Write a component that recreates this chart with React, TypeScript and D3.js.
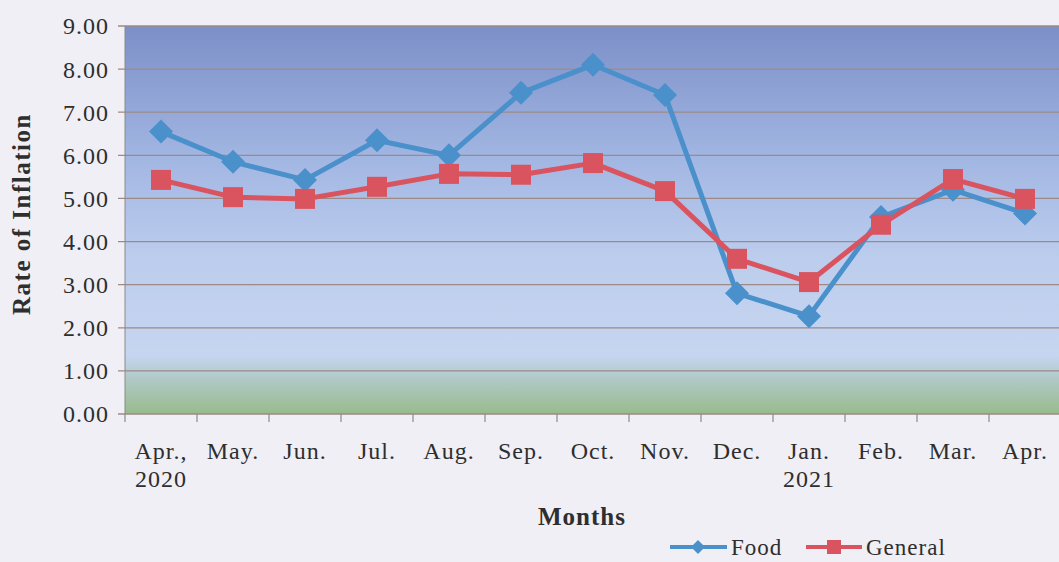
import React from "react";
import { scaleBand, scaleLinear, line, range } from "d3";

const months = ["Apr.,", "May.", "Jun.", "Jul.", "Aug.", "Sep.", "Oct.", "Nov.", "Dec.", "Jan.", "Feb.", "Mar.", "Apr."];
const yearLabels = ["2020", "", "", "", "", "", "", "", "", "2021", "", "", ""];
const food = [6.55, 5.85, 5.43, 6.35, 6.0, 7.45, 8.1, 7.4, 2.8, 2.27, 4.57, 5.2, 4.65];
const general = [5.43, 5.03, 4.99, 5.27, 5.57, 5.55, 5.82, 5.17, 3.6, 3.06, 4.39, 5.45, 4.99];
const yTicks = range(0, 10);

const width = 1059;
const height = 562;
const left = 125;
const right = 1061;
const top = 26;
const bottom = 414;

const FOOD = "#4a90cb";
const GENERAL = "#d9545f";
const GRID = "#9d8a86";
const TEXT = "#2e2e2e";
const font = "'Liberation Serif', 'Times New Roman', serif";

const App = () => {
  const x = scaleBand<string>()
    .domain(months.map((m, i) => m + i))
    .range([left, right]);
  const y = scaleLinear().domain([0, 9]).range([bottom, top]);

  const cx = (i: number) => x(months[i] + i)! + x.bandwidth() / 2;
  const path = line<number>()
    .x((_, i) => cx(i))
    .y((d) => y(d));

  const diamond = (px: number, py: number, r: number) =>
    `M${px},${py - r}L${px + r},${py}L${px},${py + r}L${px - r},${py}Z`;

  return (
    <svg
      width={width}
      height={height}
      style={{ position: "absolute", left: 0, top: 0, background: "#f0eff5" }}
    >
      <defs>
        <linearGradient id="bg" x1="0" y1="0" x2="0" y2="1">
          <stop offset="0%" stopColor="#7c8fc8" />
          <stop offset="35%" stopColor="#a3b7e3" />
          <stop offset="60%" stopColor="#bccded" />
          <stop offset="85%" stopColor="#c6d5f0" />
          <stop offset="91%" stopColor="#b0c9c6" />
          <stop offset="100%" stopColor="#98bb8c" />
        </linearGradient>
      </defs>

      <rect x={left} y={top} width={right - left} height={bottom - top} fill="url(#bg)" />

      {yTicks.map((t) => (
        <g key={t}>
          <line x1={left - 7} x2={right} y1={y(t)} y2={y(t)} stroke={GRID} strokeWidth={1.3} />
          <text
            x={109}
            y={y(t)}
            dy="0.35em"
            textAnchor="end"
            fontFamily={font}
            fontSize={24}
            letterSpacing={1}
            fill={TEXT}
          >
            {t.toFixed(2)}
          </text>
        </g>
      ))}

      {/* x axis ticks */}
      {range(months.length + 1).map((i) => {
        const tx = left + i * x.bandwidth();
        return <line key={i} x1={tx} x2={tx} y1={bottom} y2={bottom + 8} stroke="#8a8a8a" strokeWidth={1.2} />;
      })}
      <line x1={left} x2={left} y1={top} y2={bottom} stroke="#8a8a8a" strokeWidth={1} />

      {months.map((m, i) => (
        <g key={i}>
          <text x={cx(i)} y={459} textAnchor="middle" fontFamily={font} fontSize={24} letterSpacing={1} fill={TEXT}>
            {m}
          </text>
          {yearLabels[i] && (
            <text x={cx(i)} y={487} textAnchor="middle" fontFamily={font} fontSize={24} letterSpacing={1} fill={TEXT}>
              {yearLabels[i]}
            </text>
          )}
        </g>
      ))}

      <text
        transform="translate(30,214) rotate(-90)"
        textAnchor="middle"
        fontFamily={font}
        fontSize={25}
        letterSpacing={1.5}
        fontWeight="bold"
        fill={TEXT}
      >
        Rate of Inflation
      </text>
      <text
        x={582}
        y={525}
        textAnchor="middle"
        fontFamily={font}
        fontSize={25}
        letterSpacing={1}
        fontWeight="bold"
        fill={TEXT}
      >
        Months
      </text>

      {/* series */}
      <path d={path(food)!} fill="none" stroke={FOOD} strokeWidth={5} strokeLinejoin="round" />
      <path d={path(general)!} fill="none" stroke={GENERAL} strokeWidth={5} strokeLinejoin="round" />
      {food.map((v, i) => (
        <path key={"f" + i} d={diamond(cx(i), y(v), 12)} fill={FOOD} />
      ))}
      {general.map((v, i) => (
        <rect key={"g" + i} x={cx(i) - 10} y={y(v) - 10} width={20} height={20} fill={GENERAL} />
      ))}

      {/* legend */}
      <line x1={670} x2={727} y1={547} y2={547} stroke={FOOD} strokeWidth={4} />
      <path d={diamond(698, 547, 7)} fill={FOOD} />
      <text x={731} y={555} fontFamily={font} fontSize={23} letterSpacing={1} fill={TEXT}>
        Food
      </text>
      <line x1={806} x2={862} y1={547} y2={547} stroke={GENERAL} strokeWidth={4} />
      <rect x={827} y={540} width={14} height={14} fill={GENERAL} />
      <text x={866} y={555} fontFamily={font} fontSize={23} letterSpacing={1} fill={TEXT}>
        General
      </text>
    </svg>
  );
};

export default App;
